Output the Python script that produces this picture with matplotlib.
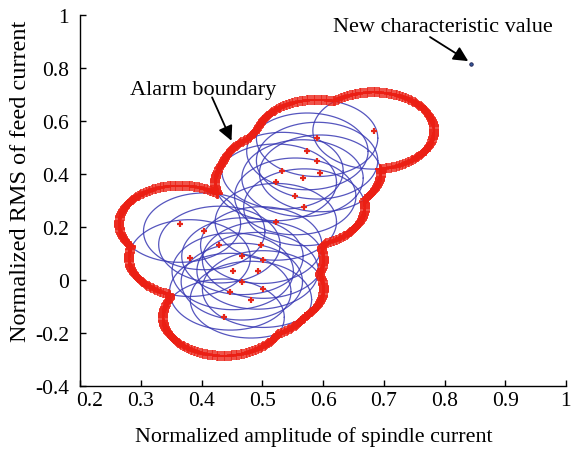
import numpy as np
import matplotlib
matplotlib.use("Agg")
import matplotlib.pyplot as plt
from matplotlib.transforms import ScaledTranslation

# Sample centres (normalized amplitude of spindle current, normalized RMS of feed current)
sample_x = [0.683, 0.590, 0.574, 0.590, 0.533, 0.566, 0.595, 0.554, 0.569, 0.522,
            0.522, 0.364, 0.404, 0.429, 0.498, 0.380, 0.467, 0.501, 0.451, 0.492,
            0.466, 0.447, 0.501, 0.481, 0.436]
sample_y = [0.563, 0.535, 0.485, 0.450, 0.412, 0.384, 0.402, 0.315, 0.274, 0.368,
            0.219, 0.211, 0.183, 0.133, 0.131, 0.082, 0.089, 0.075, 0.032, 0.034,
            -0.007, -0.045, -0.035, -0.075, -0.142]
# Ellipse half-widths around each sample
radius_x = 0.10
radius_y = 0.145

new_x = [0.844]
new_y = [0.815]

x_ticks = [0.2, 0.3, 0.4, 0.5, 0.6, 0.7, 0.8, 0.9, 1]
x_tick_labels = ["0.2", "0.3", "0.4", "0.5", "0.6", "0.7", "0.8", "0.9", "1"]
y_ticks = [-0.4, -0.2, 0, 0.2, 0.4, 0.6, 0.8, 1]
y_tick_labels = ["-0.4", "-0.2", "0", "0.2", "0.4", "0.6", "0.8", "1"]

plt.rcParams['font.family'] = ['Liberation Serif', 'DejaVu Serif']
fig = plt.figure(figsize=(5.74, 4.52), dpi=100)
ax = fig.add_axes([0.14, 0.1445, 0.846, 0.82])

cx = np.array(sample_x)
cy = np.array(sample_y)
t = np.linspace(0, 2 * np.pi, 361)

# individual ellipses
for x0, y0 in zip(cx, cy):
    ax.plot(x0 + radius_x * np.cos(t), y0 + radius_y * np.sin(t),
            color=(0.22, 0.22, 0.70), lw=0.9, alpha=0.85, zorder=2)

# alarm boundary: outer envelope of the union
tb = np.linspace(0, 2 * np.pi, 220, endpoint=False)
bx, by = [], []
for i, (x0, y0) in enumerate(zip(cx, cy)):
    px = x0 + radius_x * np.cos(tb)
    py = y0 + radius_y * np.sin(tb)
    inside = np.zeros_like(px, dtype=bool)
    for j, (x1, y1) in enumerate(zip(cx, cy)):
        if j == i:
            continue
        d = ((px - x1) / radius_x) ** 2 + ((py - y1) / radius_y) ** 2
        inside |= d < 0.999
    bx.extend(px[~inside])
    by.extend(py[~inside])
ax.plot(bx, by, ls='none', marker='+', color=(0.92, 0.12, 0.08), ms=6.5, mew=1.1, zorder=3)

# sample points
ax.plot(cx, cy, ls='none', marker='+', color=(0.9, 0.15, 0.1), ms=4.5, mew=1.6, zorder=4)

# new characteristic value
ax.plot(new_x, new_y, ls='none', marker='o', ms=2.5, mfc=(0.2, 0.35, 0.6),
        mec=(0.1, 0.1, 0.3), mew=0.6, zorder=5)

arrow_kw = dict(arrowstyle='-|>', color='black', lw=1.3, mutation_scale=22,
                shrinkA=0, shrinkB=0)
ax.text(0.797, 0.958, "New characteristic value", ha='center', va='center', fontsize=16)
ax.annotate("", xy=(0.839, 0.826), xytext=(0.776, 0.917), arrowprops=arrow_kw)
ax.text(0.402, 0.720, "Alarm boundary", ha='center', va='center', fontsize=16)
ax.annotate("", xy=(0.449, 0.525), xytext=(0.417, 0.689), arrowprops=arrow_kw)

ax.set_xlim(0.2, 1)
ax.set_ylim(-0.4, 1)
ax.set_xticks(x_ticks)
ax.set_xticklabels(x_tick_labels)
ax.set_yticks(y_ticks)
ax.set_yticklabels(y_tick_labels)
ax.tick_params(direction='in', length=4, width=1, labelsize=15.5)
ax.tick_params(axis='x', pad=4)
ax.tick_params(axis='y', pad=8)
first = ax.get_xticklabels()[0]
first.set_horizontalalignment('left')
first.set_transform(first.get_transform() + ScaledTranslation(-4 / 100, 0, fig.dpi_scale_trans))
ax.spines['top'].set_visible(False)
ax.spines['right'].set_visible(False)
for s in ['left', 'bottom']:
    ax.spines[s].set_linewidth(1.0)
ax.set_xlabel("Normalized amplitude of spindle current", fontsize=15.8, va='center')
ax.set_ylabel("Normalized RMS of feed current", fontsize=17.5, va='center')
ax.xaxis.set_label_coords(0.481, -0.136)
ax.yaxis.set_label_coords(-0.124, 0.555)

fig.savefig("out.png", dpi=100)
